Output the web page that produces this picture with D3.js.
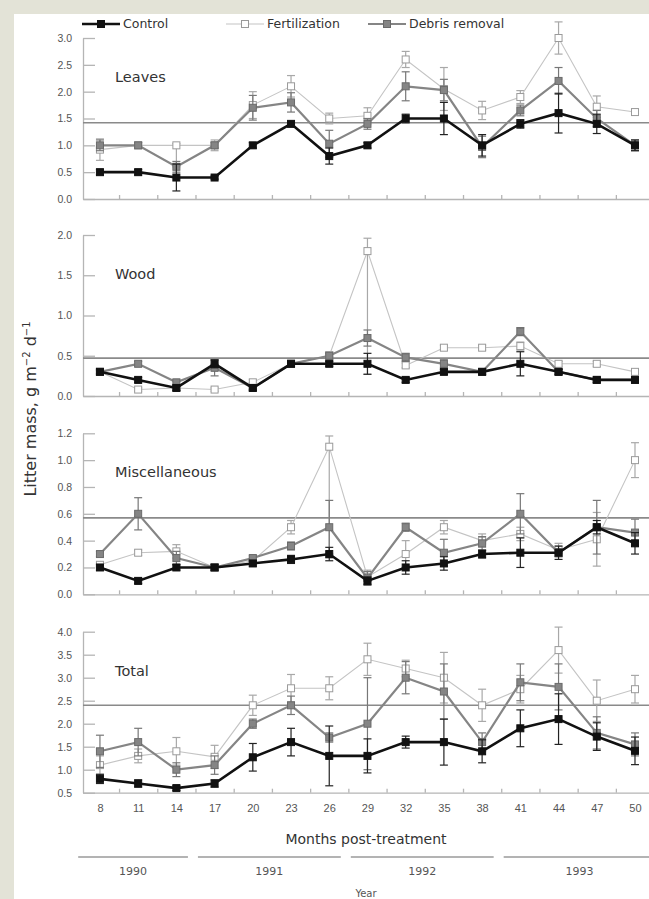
<!DOCTYPE html>
<html>
<head>
<meta charset="utf-8">
<script src="https://cdn.jsdelivr.net/npm/d3@7"></script>
<style>
  body { margin: 0; background: #e3e3d7; }
  svg { display: block; font-family: "DejaVu Sans", sans-serif; }
</style>
</head>
<body>
<div id="chart"></div>
<script>
// months post-treatment (x categories)
var months = [8, 11, 14, 17, 20, 23, 26, 29, 32, 35, 38, 41, 44, 47, 50];
var seriesNames = ["Control", "Fertilization", "Debris removal"];
var panelNames = ["Leaves", "Wood", "Miscellaneous", "Total"];

// Leaves  (an error given as [down, up] is asymmetric)
var leavesControl    = [0.5, 0.5, 0.4, 0.4, 1.0, 1.4, 0.8, 1.0, 1.5, 1.5, 1.0, 1.4, 1.6, 1.4, 1.0];
var leavesControlErr = [0.05, 0.05, 0.25, 0.03, 0.05, 0.05, 0.15, 0.05, 0.08, 0.3, 0.2, 0.08, 0.37, 0.18, 0.1];
var leavesFert       = [0.92, 1.0, 1.0, 1.0, 1.75, 2.1, 1.5, 1.55, 2.6, 2.05, 1.65, 1.9, 3.0, 1.72, 1.62];
var leavesFertErr    = [0.2, 0.05, [0.4, 0.03], 0.1, 0.25, 0.2, 0.1, 0.15, 0.15, 0.4, 0.17, 0.12, 0.3, 0.2, 0.05];
var leavesDebris     = [1.0, 1.0, 0.6, 1.0, 1.7, 1.8, 1.03, 1.4, 2.1, 2.03, 0.97, 1.65, 2.2, 1.5, 1.0];
var leavesDebrisErr  = [0.1, 0.05, 0.1, 0.05, 0.23, 0.18, 0.25, 0.1, 0.27, 0.2, 0.2, 0.1, 0.25, 0.15, 0.1];

// Wood
var woodControl    = [0.3, 0.2, 0.1, 0.4, 0.1, 0.4, 0.4, 0.4, 0.2, 0.3, 0.3, 0.4, 0.3, 0.2, 0.2];
var woodControlErr = [0.03, 0.03, 0.03, 0.05, 0.03, 0.03, 0.03, 0.13, 0.03, 0.03, 0.03, 0.15, 0.03, 0.03, 0.03];
var woodFert       = [0.3, 0.08, 0.1, 0.08, 0.17, 0.4, 0.5, 1.8, 0.38, 0.6, 0.6, 0.62, 0.4, 0.4, 0.3];
var woodFertErr    = [0.02, 0.02, 0.03, 0.02, 0.03, 0.03, 0.05, [1.53, 0.16], 0.03, 0.03, 0.03, 0.05, 0.03, 0.03, 0.03];
var woodDebris     = [0.3, 0.4, 0.17, 0.35, 0.1, 0.4, 0.5, 0.72, 0.48, 0.4, 0.3, 0.8, 0.3, 0.2, 0.2];
var woodDebrisErr  = [0.02, 0.03, 0.03, 0.1, 0.02, 0.03, 0.03, 0.1, 0.05, 0.05, 0.03, 0.05, 0.03, 0.03, 0.03];

// Miscellaneous
var miscControl    = [0.2, 0.1, 0.2, 0.2, 0.23, 0.26, 0.3, 0.1, 0.2, 0.23, 0.3, 0.31, 0.31, 0.5, 0.38];
var miscControlErr = [0.02, 0.02, 0.02, 0.02, 0.02, 0.03, 0.05, 0.03, 0.05, 0.05, 0.03, 0.11, 0.05, 0.05, 0.08];
var miscFert       = [0.22, 0.31, 0.32, 0.2, 0.25, 0.5, 1.1, 0.13, 0.3, 0.5, 0.4, 0.45, 0.33, 0.41, 1.0];
var miscFertErr    = [0.02, 0.02, 0.05, 0.02, 0.03, 0.05, [0.83, 0.08], 0.05, 0.1, 0.05, 0.05, 0.05, 0.05, 0.2, 0.13];
var miscDebris     = [0.3, 0.6, 0.27, 0.2, 0.27, 0.36, 0.5, 0.12, 0.5, 0.31, 0.38, 0.6, 0.31, 0.5, 0.46];
var miscDebrisErr  = [0.02, 0.12, 0.05, 0.02, 0.02, 0.03, 0.2, 0.05, 0.03, 0.1, 0.05, 0.15, 0.03, 0.2, 0.1];

// Total
var totalControl    = [0.8, 0.7, 0.6, 0.7, 1.27, 1.6, 1.3, 1.3, 1.6, 1.6, 1.4, 1.9, 2.1, 1.72, 1.41];
var totalControlErr = [0.1, 0.08, 0.05, 0.08, 0.3, 0.3, 0.65, 0.37, 0.13, 0.5, 0.25, 0.4, 0.55, 0.3, 0.3];
var totalFert       = [1.1, 1.3, 1.4, 1.28, 2.4, 2.77, 2.77, 3.4, 3.2, 3.0, 2.4, 2.75, 3.6, 2.5, 2.75];
var totalFertErr    = [0.2, 0.15, 0.3, 0.25, 0.22, 0.3, 0.25, 0.35, 0.18, 0.55, 0.35, 0.3, 0.5, 0.45, 0.3];
var totalDebris     = [1.4, 1.6, 1.0, 1.1, 2.0, 2.4, 1.7, 2.0, 3.0, 2.7, 1.6, 2.9, 2.8, 1.8, 1.55];
var totalDebrisErr  = [0.35, 0.3, 0.15, 0.2, 0.1, 0.2, 0.1, 1.0, 0.35, 0.6, 0.2, 0.4, 0.5, 0.35, 0.25];

// y domains, tick steps and the horizontal reference line of each panel
var panelDomains = [[0, 3], [0, 2], [0, 1.2], [0.5, 4]];
var panelTicks = [0.5, 0.5, 0.2, 0.5];
var panelRefs = [1.42, 0.47, 0.57, 2.4];

// years along the bottom
var years = ["1990", "1991", "1992", "1993"];
var yearStart = [5.9, 15.3, 27.3, 39.3];
var yearEnd = [15.3, 27.3, 39.3, 52];

var panels = [
  {name: panelNames[0], series: [[leavesControl, leavesControlErr], [leavesFert, leavesFertErr], [leavesDebris, leavesDebrisErr]]},
  {name: panelNames[1], series: [[woodControl, woodControlErr], [woodFert, woodFertErr], [woodDebris, woodDebrisErr]]},
  {name: panelNames[2], series: [[miscControl, miscControlErr], [miscFert, miscFertErr], [miscDebris, miscDebrisErr]]},
  {name: panelNames[3], series: [[totalControl, totalControlErr], [totalFert, totalFertErr], [totalDebris, totalDebrisErr]]}
];

// look of each series: control, fertilization, debris removal
var styles = [
  {line: "#111", width: 2.6, fill: "#111", stroke: "#111", err: "#222"},
  {line: "#c4c4c4", width: 1.1, fill: "#fff", stroke: "#9a9a9a", err: "#a8a8a8"},
  {line: "#858585", width: 2.2, fill: "#858585", stroke: "#6a6a6a", err: "#777"}
];

var W = 649, H = 899;
var svg = d3.select("#chart").append("svg")
  .attr("width", W)
  .attr("height", H);

// white sheet
svg.append("rect")
  .attr("x", 14).attr("y", 14)
  .attr("width", W - 14).attr("height", H - 14)
  .attr("fill", "#fff");

var x = d3.scaleLinear()
  .domain([6.67, 51.1])
  .range([83, 649]);

var mids = months.slice(0, -1).map(function(m) { return m + 1.5; });

var panelTop = [38, 235, 433.3, 631.7],
    panelH = 161;

panels.forEach(function(p, pi) {
  var dom = panelDomains[pi];
  var y = d3.scaleLinear()
    .domain(dom)
    .range([panelTop[pi] + panelH, panelTop[pi]]);

  var g = svg.append("g");

  // y axis, ticks pointing inward
  var yAxis = g.append("g")
    .attr("transform", "translate(" + x.range()[0] + ",0)")
    .call(d3.axisLeft(y)
      .tickValues(d3.range(dom[0], dom[1] + 1e-9, panelTicks[pi]))
      .tickFormat(d3.format(".1f"))
      .tickSizeInner(-12)
      .tickSizeOuter(0)
      .tickPadding(11));

  // x axis line with small ticks between months
  g.append("g")
    .attr("transform", "translate(0," + y(dom[0]) + ")")
    .call(d3.axisBottom(x)
      .tickValues(mids)
      .tickFormat("")
      .tickSizeInner(-4)
      .tickSizeOuter(0));

  g.selectAll(".domain, .tick line")
    .attr("stroke", "#b5b5b5")
    .attr("stroke-width", 1.3);
  yAxis.selectAll(".tick text")
    .attr("fill", "#555")
    .style("font-size", "10.5px");

  // reference line
  g.append("line")
    .attr("x1", x.range()[0]).attr("x2", x.range()[1])
    .attr("y1", y(panelRefs[pi])).attr("y2", y(panelRefs[pi]))
    .attr("stroke", "#8a8a8a")
    .attr("stroke-width", 1.6);

  // panel label
  g.append("text")
    .attr("x", 115)
    .attr("y", panelTop[pi] + 44)
    .attr("fill", "#333")
    .style("font-size", "14.5px")
    .text(p.name);

  var line = d3.line()
    .x(function(d) { return x(d.m); })
    .y(function(d) { return y(d.v); });

  // draw fertilization, debris, then control on top
  [1, 2, 0].forEach(function(si) {
    var vals = p.series[si][0], errs = p.series[si][1], st = styles[si];
    var pts = months.map(function(m, i) {
      var e = errs[i];
      var dn = Array.isArray(e) ? e[0] : e,
          up = Array.isArray(e) ? e[1] : e;
      return {m: m, v: vals[i], lo: vals[i] - dn, hi: vals[i] + up};
    });

    var sg = g.append("g");

    // error bars
    var eb = sg.selectAll("g.err")
      .data(pts)
      .enter()
      .append("g")
      .attr("class", "err")
      .attr("stroke", st.err)
      .attr("stroke-width", 1.2);
    eb.append("line")
      .attr("x1", function(d) { return x(d.m); })
      .attr("x2", function(d) { return x(d.m); })
      .attr("y1", function(d) { return y(d.lo); })
      .attr("y2", function(d) { return y(d.hi); });
    eb.append("line")
      .attr("x1", function(d) { return x(d.m) - 4; })
      .attr("x2", function(d) { return x(d.m) + 4; })
      .attr("y1", function(d) { return y(d.lo); })
      .attr("y2", function(d) { return y(d.lo); });
    eb.append("line")
      .attr("x1", function(d) { return x(d.m) - 4; })
      .attr("x2", function(d) { return x(d.m) + 4; })
      .attr("y1", function(d) { return y(d.hi); })
      .attr("y2", function(d) { return y(d.hi); });

    sg.append("path")
      .datum(pts)
      .attr("fill", "none")
      .attr("stroke", st.line)
      .attr("stroke-width", st.width)
      .attr("d", line);

    sg.selectAll("rect")
      .data(pts)
      .enter()
      .append("rect")
      .attr("x", function(d) { return x(d.m) - 3.5; })
      .attr("y", function(d) { return y(d.v) - 3.5; })
      .attr("width", 7)
      .attr("height", 7)
      .attr("fill", st.fill)
      .attr("stroke", st.stroke)
      .attr("stroke-width", 1);
  });

  // month labels under the last panel
  if (pi === panels.length - 1) {
    var lab = g.append("g")
      .attr("transform", "translate(0," + y(dom[0]) + ")")
      .call(d3.axisBottom(x)
        .tickValues(months)
        .tickSize(0)
        .tickPadding(12));
    lab.select(".domain").remove();
    lab.selectAll(".tick text")
      .attr("fill", "#555")
      .style("font-size", "11px");
  }
});

// legend
var legendX = [82, 226, 368];
seriesNames.forEach(function(name, si) {
  var st = styles[si];
  var lg = svg.append("g").attr("transform", "translate(" + legendX[si] + ",24)");
  lg.append("line")
    .attr("x1", 0).attr("x2", 38)
    .attr("stroke", st.line)
    .attr("stroke-width", st.width);
  lg.append("rect")
    .attr("x", 19 - 3.5).attr("y", -3.5)
    .attr("width", 7).attr("height", 7)
    .attr("fill", st.fill)
    .attr("stroke", st.stroke);
  lg.append("text")
    .attr("x", 41)
    .attr("dy", "0.35em")
    .attr("fill", "#333")
    .style("font-size", "12.5px")
    .text(name);
});

// axis titles
var ytitle = svg.append("text")
  .attr("transform", "translate(36,409) rotate(-90)")
  .attr("text-anchor", "middle")
  .attr("fill", "#333")
  .style("font-size", "16px");
ytitle.append("tspan").text("Litter mass, g m");
ytitle.append("tspan").attr("dy", -6).style("font-size", "10px").text("\u22122");
ytitle.append("tspan").attr("dy", 6).text(" d");
ytitle.append("tspan").attr("dy", -6).style("font-size", "10px").text("\u22121");

svg.append("text")
  .attr("x", 366)
  .attr("y", 844)
  .attr("text-anchor", "middle")
  .attr("fill", "#333")
  .style("font-size", "14px")
  .text("Months post-treatment");

// year bands
years.forEach(function(yr, i) {
  svg.append("line")
    .attr("x1", x(yearStart[i]) + 5)
    .attr("x2", x(yearEnd[i]) - 5)
    .attr("y1", 857).attr("y2", 857)
    .attr("stroke", "#9a9a9a")
    .attr("stroke-width", 1.4);
  svg.append("text")
    .attr("x", x((yearStart[i] + yearEnd[i]) / 2))
    .attr("y", 875)
    .attr("text-anchor", "middle")
    .attr("fill", "#555")
    .style("font-size", "11px")
    .text(yr);
});

svg.append("text")
  .attr("x", 366)
  .attr("y", 897)
  .attr("text-anchor", "middle")
  .attr("fill", "#555")
  .style("font-size", "10px")
  .text("Year");
</script>
</body>
</html>
